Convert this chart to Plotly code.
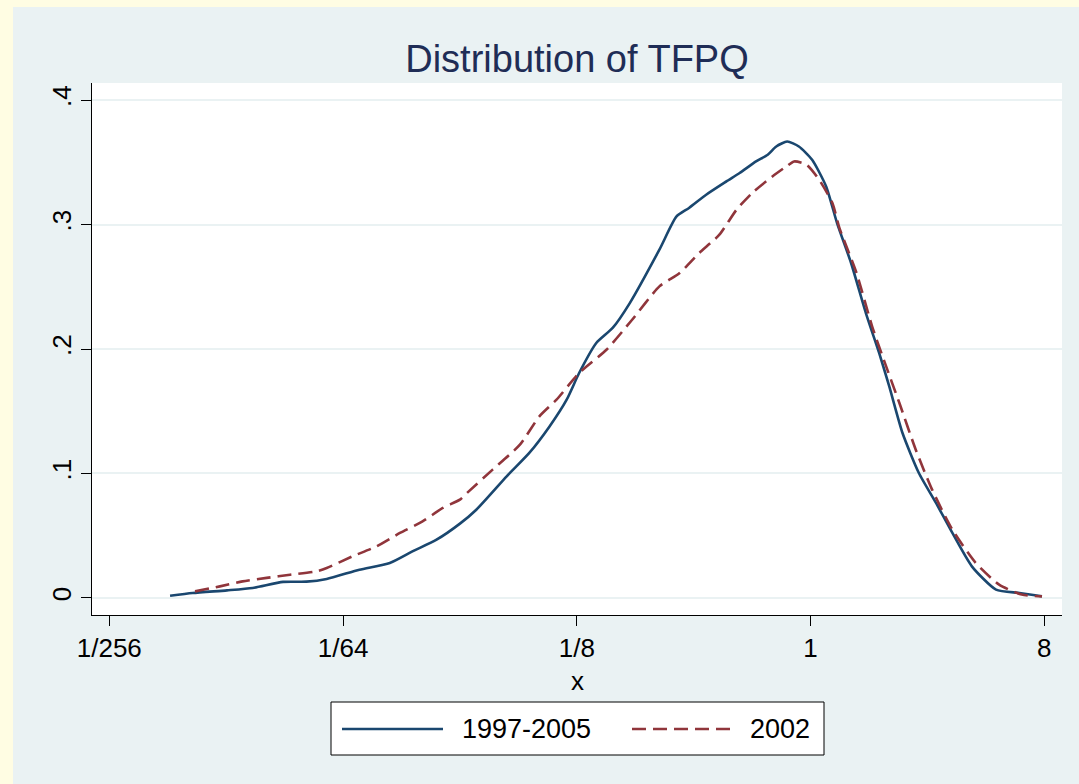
import plotly.graph_objects as go

# ---- data (x in log2 units of TFPQ; ticks labelled as in the original) ----
tick_vals = [-9, -6, -3, 0, 3]
tick_text = ["1/256", "1/64", "1/8", "1", "8"]
y_tick_vals = [0, 0.1, 0.2, 0.3, 0.4]
y_tick_text = ["0", ".1", ".2", ".3", ".4"]

series_names = ["1997-2005", "2002"]

x_all = [-8.22, -7.93, -7.49, -7.16, -6.77, -6.47, -6.21, -5.79, -5.40, -5.11, -4.80, -4.50,
         -4.29, -3.90, -3.61, -3.35, -3.13, -2.97, -2.75, -2.54, -2.32, -1.94, -1.72, -1.56,
         -1.34, -1.08, -0.91, -0.70, -0.55, -0.44, -0.30, -0.15, 0.02, 0.20, 0.34, 0.52,
         0.71, 0.88, 1.01, 1.18, 1.39, 1.61, 1.82, 2.07, 2.38, 2.68, 2.97]
y_all = [0.0018, 0.0040, 0.0061, 0.0080, 0.0129, 0.0131, 0.0153, 0.0227, 0.0281, 0.0374, 0.0468,
         0.0597, 0.0709, 0.0977, 0.1165, 0.1378, 0.1593, 0.1807, 0.2048, 0.2169, 0.2369, 0.2798,
         0.3065, 0.3133, 0.3239, 0.3346, 0.3414, 0.3507, 0.3561, 0.3627, 0.3667, 0.3627, 0.3520,
         0.3306, 0.3012, 0.2691, 0.2289, 0.1968, 0.1700, 0.1325, 0.1004, 0.0763, 0.0522, 0.0254,
         0.0067, 0.0040, 0.0013]

x_2002 = [-7.90, -7.58, -7.29, -6.98, -6.68, -6.34, -6.21, -5.88, -5.57, -5.27, -4.98, -4.72,
          -4.50, -4.41, -4.08, -3.73, -3.48, -3.26, -2.97, -2.62, -2.29, -1.94, -1.68, -1.43,
          -1.17, -0.95, -0.75, -0.49, -0.31, -0.21, -0.05, 0.11, 0.28, 0.37, 0.59, 0.79, 0.97,
          1.14, 1.35, 1.56, 1.82, 2.12, 2.42, 2.71, 2.97]
y_2002 = [0.0053, 0.0093, 0.0133, 0.0161, 0.0187, 0.0214, 0.0241, 0.0334, 0.0414, 0.0522, 0.0615,
          0.0723, 0.0790, 0.0843, 0.1031, 0.1231, 0.1459, 0.1593, 0.1807, 0.1994, 0.2235, 0.2503,
          0.2610, 0.2771, 0.2918, 0.3119, 0.3253, 0.3386, 0.3467, 0.3507, 0.3480, 0.3360, 0.3173,
          0.2973, 0.2610, 0.2182, 0.1860, 0.1566, 0.1191, 0.0870, 0.0549, 0.0281, 0.0107, 0.0027,
          0.0013]

# ---- style ----
W, H = 1079, 784
L, R, T, B = 92, 1062, 83, 615
BLUE = "#1a476f"
RED = "#90353b"
BG = "#eaf2f3"
YELLOW = "#fffde3"
FONT = "Liberation Sans, Arial, sans-serif"
DASH = "14px,7px"


def px(xp):
    return (xp - L) / (R - L)


def py(yp):
    return (B - yp) / (B - T)


fig = go.Figure()
fig.add_trace(go.Scatter(x=x_all, y=y_all, mode="lines", name=series_names[0],
                         line=dict(color=BLUE, width=2.6, shape="spline", smoothing=0.6)))
fig.add_trace(go.Scatter(x=x_2002, y=y_2002, mode="lines", name=series_names[1],
                         line=dict(color=RED, width=2.6, dash=DASH, shape="spline", smoothing=0.6)))

shapes = [
    # yellow outer strips
    dict(type="rect", xref="paper", yref="paper", x0=px(0), x1=px(13), y0=py(H), y1=py(0),
         fillcolor=YELLOW, line=dict(width=0), layer="below"),
    dict(type="rect", xref="paper", yref="paper", x0=px(0), x1=px(W), y0=py(7), y1=py(0),
         fillcolor=YELLOW, line=dict(width=0), layer="below"),
    # legend box
    dict(type="rect", xref="paper", yref="paper", x0=px(331), x1=px(824), y0=py(755), y1=py(702),
         fillcolor="white", line=dict(color="black", width=1)),
    dict(type="line", xref="paper", yref="paper", x0=px(342), x1=px(443), y0=py(729), y1=py(729),
         line=dict(color=BLUE, width=2.6)),
    dict(type="line", xref="paper", yref="paper", x0=px(632), x1=px(733), y0=py(729), y1=py(729),
         line=dict(color=RED, width=2.6, dash=DASH)),
]

annotations = [
    dict(xref="paper", yref="paper", x=px(460), y=py(729), text=series_names[0], showarrow=False,
         xanchor="left", yanchor="middle", font=dict(family=FONT, size=27, color="black")),
    dict(xref="paper", yref="paper", x=px(748), y=py(729), text=series_names[1], showarrow=False,
         xanchor="left", yanchor="middle", font=dict(family=FONT, size=27, color="black")),
    # x-axis title
    dict(xref="paper", yref="paper", x=0.5, y=py(664), text="x", showarrow=False,
         xanchor="center", yanchor="top", font=dict(family=FONT, size=26, color="black")),
]

fig.update_layout(
    width=W, height=H,
    margin=dict(l=L, r=W - R, t=T, b=H - B, pad=0),
    paper_bgcolor=BG, plot_bgcolor="white",
    showlegend=False,
    title=dict(text="Distribution of TFPQ", x=0.5, xref="paper", xanchor="center",
               y=(H - 59) / H, yref="container", yanchor="middle",
               font=dict(family=FONT, size=38, color="#1f2d56")),
    xaxis=dict(range=[-9.222, 3.227], tickvals=tick_vals, ticktext=tick_text,
               showgrid=False, zeroline=False, showline=True, linecolor="black", linewidth=1,
               ticks="outside", ticklen=10, tickcolor="black", tickwidth=1,
               tickfont=dict(family=FONT, size=26, color="black")),
    yaxis=dict(range=[-0.0137, 0.4137], tickvals=y_tick_vals, ticktext=y_tick_text,
               showgrid=True, gridcolor=BG, gridwidth=2, zeroline=False,
               showline=True, linecolor="black", linewidth=1,
               ticks="outside", ticklen=10, tickcolor="black", tickwidth=1, tickangle=-90,
               tickfont=dict(family=FONT, size=26, color="black")),
    shapes=shapes,
    annotations=annotations,
)

fig.write_html("out.html", config={"displayModeBar": False},
               post_script="document.body.style.margin='0';")
